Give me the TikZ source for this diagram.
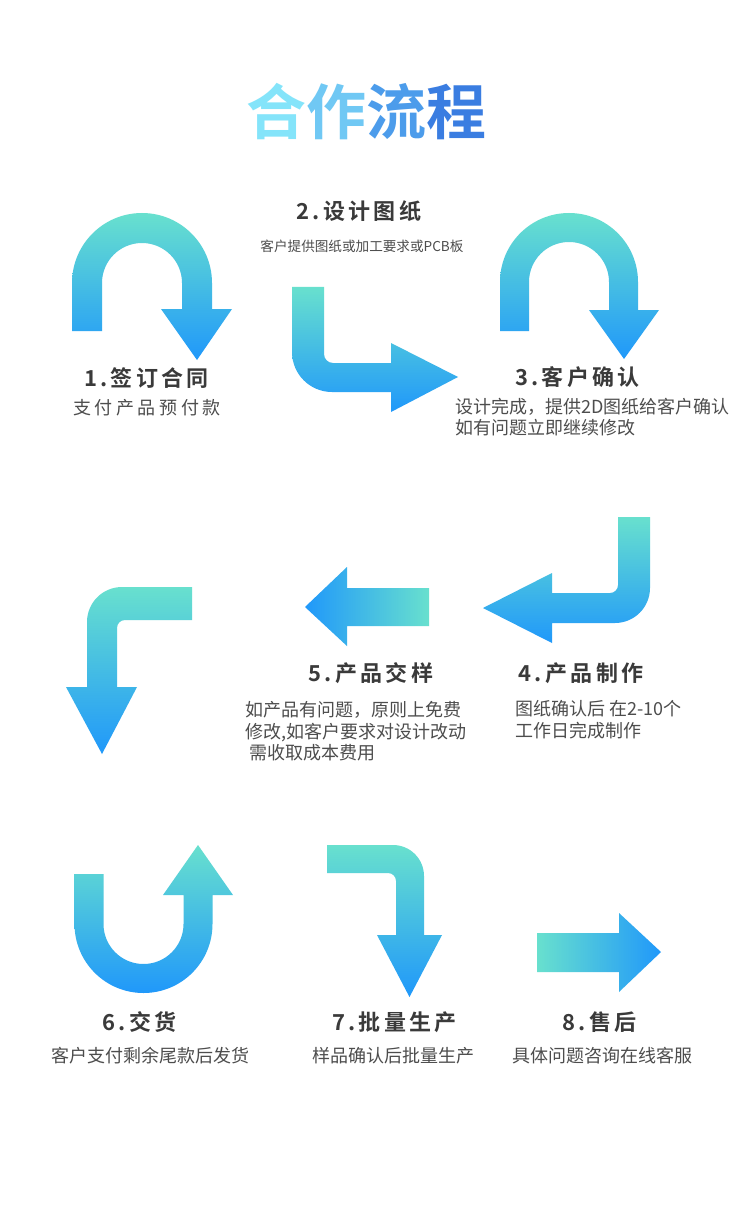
\documentclass[tikz,border=0pt]{standalone}
\usepackage{fontspec}
\newfontfamily\cjk{Noto Sans CJK SC}
\newfontfamily\cjkb{Noto Sans CJK SC Bold}
\definecolor{tealc}{HTML}{68E0CE}
\definecolor{bluec}{HTML}{2098FA}
\definecolor{headc}{HTML}{3A3A3A}
\definecolor{subc}{HTML}{4D4D4D}
\definecolor{tA}{HTML}{84E4FA}
\definecolor{tB}{HTML}{70C8F4}
\definecolor{tC}{HTML}{4C9CEB}
\definecolor{tD}{HTML}{3A7DE1}
\tikzset{
  vgrad/.style={top color=tealc, bottom color=bluec, draw=none},
  hgradr/.style={left color=tealc, right color=bluec, draw=none},
  hgradl/.style={left color=bluec, right color=tealc, draw=none},
  headtxt/.style={anchor=base, inner sep=0pt, text=headc,
    font=\cjkb\addfontfeature{LetterSpace=15}\fontsize{22}{26}\selectfont},
  subtxt/.style={anchor=base, inner sep=0pt, text=subc,
    font=\cjk\fontsize{18}{22}\selectfont},
  subleft/.style={subtxt, anchor=base west},
}
\begin{document}
\begin{tikzpicture}[x=1pt,y=-1pt]
\fill[white] (0,0) rectangle (750,1214);
\useasboundingbox (0,0) rectangle (750,1214);

% title
\node[anchor=base, inner sep=0pt, font=\cjkb\addfontfeature{LetterSpace=3}\fontsize{60}{66}\selectfont] (title) at (366,135)
  {{\color{tA}合}{\color{tB}作}{\color{tC}流}{\color{tD}程}};

% arrow 1 (U down)
\shade[vgrad] (72,331) -- (72,283) arc[start angle=180,end angle=360,radius=70]
  -- (212,309) -- (232,309) -- (197,360) -- (161,309) -- (182,309) -- (182,283)
  arc[start angle=360,end angle=180,radius=40] -- (102,331) -- cycle;

% arrow 2 (L right)
\shade[vgrad] (292,287) -- (292,352) arc[start angle=180,end angle=90,radius=40]
  -- (391,392) -- (391,412) -- (458,377) -- (391,343) -- (391,363) -- (333,363)
  arc[start angle=90,end angle=180,radius=9] -- (324,287) -- cycle;

% arrow 3 (U down)
\shade[vgrad] (500,331) -- (500,282) arc[start angle=180,end angle=360,radius=69]
  -- (638,310) -- (659,310) -- (624,359) -- (589,310) -- (609,310) -- (609,282)
  arc[start angle=360,end angle=180,radius=40] -- (529,331) -- cycle;

% arrow 4 (down then left)
\shade[vgrad] (618,517) -- (650,517) -- (650,588) arc[start angle=0,end angle=90,radius=35]
  -- (552,623) -- (552,643) -- (483,608) -- (552,573) -- (552,593) -- (610,593)
  arc[start angle=90,end angle=0,radius=8] -- cycle;

% arrow 5 (left)
\shade[hgradl] (429,588) -- (347,588) -- (347,567) -- (305,607) -- (347,646)
  -- (347,626) -- (429,626) -- cycle;

% arrow 6a (left then down)
\shade[vgrad] (192,587) -- (122,587) arc[start angle=270,end angle=180,radius=35]
  -- (87,687) -- (66,687) -- (102,754) -- (137,687) -- (117,687) -- (117,628)
  arc[start angle=180,end angle=270,radius=8] -- (192,620) -- cycle;

% arrow 6b (U up)
\shade[vgrad] (74.5,874) -- (74.5,924) arc[start angle=180,end angle=0,radius=69]
  -- (212.5,895) -- (233,895) -- (198,845) -- (163,895) -- (183.5,895) -- (183.5,924)
  arc[start angle=0,end angle=180,radius=40] -- (103.5,874) -- cycle;

% arrow 7 (right then down)
\shade[vgrad] (327,845) -- (393,845) arc[start angle=270,end angle=360,radius=31]
  -- (424,935) -- (442,935) -- (409.5,997) -- (377,935) -- (396,935) -- (396,881)
  arc[start angle=360,end angle=270,radius=8] -- (327,873) -- cycle;

% arrow 8 (right)
\shade[hgradr] (537,933) -- (619,933) -- (619,913) -- (661,952) -- (619,992)
  -- (619,972) -- (537,972) -- cycle;

% headings
\node[headtxt] (h1) at (146.5,386) {1.签订合同};
\node[headtxt] (h2) at (359,220) {2.设计图纸};
\node[headtxt] (h3) at (577.5,385) {3.客户确认};
\node[headtxt] (h4) at (581,681) {4.产品制作};
\node[headtxt] (h5) at (371,681) {5.产品交样};
\node[headtxt] (h6) at (139.5,1030) {6.交货};
\node[headtxt] (h7) at (394.5,1030) {7.批量生产};
\node[headtxt] (h8) at (599.5,1030) {8.售后};

% sub texts
\node[subtxt, font=\cjk\addfontfeature{LetterSpace=20}\fontsize{18}{22}\selectfont] (s1) at (147,414) {支付产品预付款};
\node[subtxt, font=\cjk\fontsize{13.6}{16}\selectfont] (s2) at (362,252) {客户提供图纸或加工要求或PCB板};
\node[subleft] (s3a) at (455,413) {设计完成，提供2D图纸给客户确认};
\node[subleft] (s3b) at (455,434) {如有问题立即继续修改};
\node[subleft] (s4a) at (515,715) {图纸确认后 在2-10个};
\node[subleft] (s4b) at (515,737) {工作日完成制作};
\node[subleft] (s5a) at (245,716) {如产品有问题，原则上免费};
\node[subleft] (s5b) at (245,738) {修改,如客户要求对设计改动};
\node[subleft] (s5c) at (249,759) {需收取成本费用};
\node[subtxt] (s6) at (150,1062) {客户支付剩余尾款后发货};
\node[subtxt] (s7) at (393,1062) {样品确认后批量生产};
\node[subtxt] (s8) at (602.5,1062) {具体问题咨询在线客服};
\end{tikzpicture}
\end{document}
